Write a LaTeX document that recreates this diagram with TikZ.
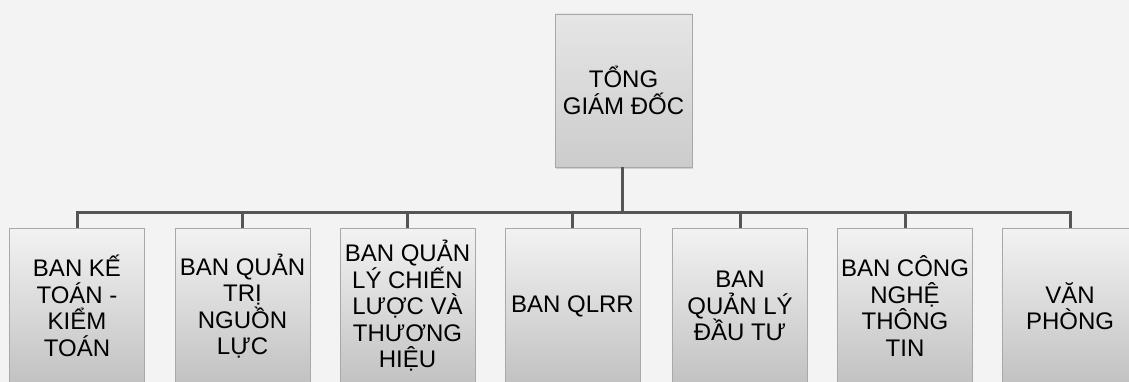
\documentclass[tikz,border=0pt]{standalone}
\usepackage{fontspec}
\setmainfont{Liberation Sans}
\usetikzlibrary{shadows}
\definecolor{bgc}{HTML}{F3F3F3}
\definecolor{linec}{HTML}{555555}
\definecolor{edgec}{HTML}{A8A8A8}
\tikzset{
  topbox/.style={draw=edgec, line width=0.8pt, top color=black!10, bottom color=black!20,
    minimum width=137pt, minimum height=153pt, inner sep=0pt, align=center,
    font=\fontsize{24}{27}\selectfont,
    drop shadow={opacity=0.3, shadow xshift=1pt, shadow yshift=-2pt}},
  unitbox/.style={draw=edgec, line width=0.8pt, top color=black!5, bottom color=black!24,
    minimum width=135pt, minimum height=156pt, inner sep=0pt, align=center,
    font=\fontsize{24}{26.5}\selectfont},
  bus/.style={draw=linec, line width=3pt}
}
\begin{document}
\begin{tikzpicture}[x=1pt,y=1pt]
\useasboundingbox (0,0) rectangle (1129,382);
\fill[bgc] (0,0) rectangle (1129,382);
\begin{scope}
\clip (0,0) rectangle (1129,382);
\node[topbox] (top) at (623.5,291.5) {TỔNG\\GIÁM ĐỐC};
\node[unitbox] (b1) at (77,76) {BAN KẾ\\TOÁN -\\KIỂM\\TOÁN};
\node[unitbox] (b2) at (242.5,76) {BAN QUẢN\\TRỊ\\NGUỒN\\LỰC};
\node[unitbox] (b3) at (407.5,76) {BAN QUẢN\\LÝ CHIẾN\\LƯỢC VÀ\\THƯƠNG\\HIỆU};
\node[unitbox] (b4) at (572.5,76) {BAN QLRR};
\node[unitbox] (b5) at (740,76) {BAN\\QUẢN LÝ\\ĐẦU TƯ};
\node[unitbox] (b6) at (905,76) {BAN CÔNG\\NGHỆ\\THÔNG\\TIN};
\node[unitbox] (b7) at (1070,76) {VĂN\\PHÒNG};
\coordinate (busc) at (622,169);
\draw[bus] (top.south -| busc) -- (busc);
\foreach \b in {b1,b2,b3,b4,b5,b6,b7}{
  \draw[bus] (busc) -| (\b.north);
}
\end{scope}
\end{tikzpicture}
\end{document}
